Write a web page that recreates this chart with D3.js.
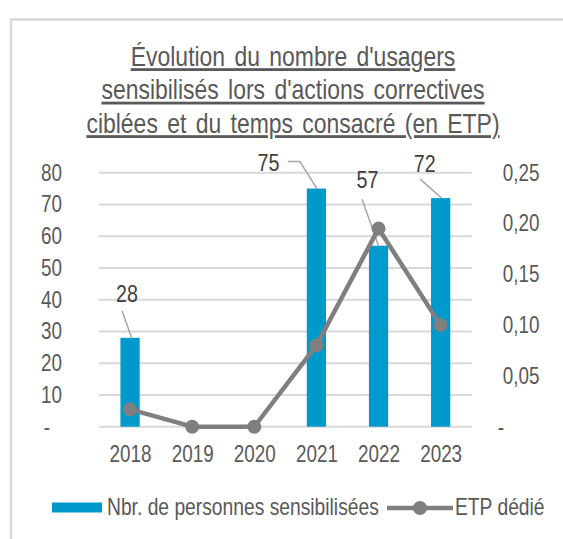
<!DOCTYPE html>
<html lang="fr">
<head>
<meta charset="utf-8">
<script src="https://cdn.jsdelivr.net/npm/d3@7"></script>
<style>
  html, body { margin: 0; padding: 0; background: #ffffff; }
  svg { display: block; }
  text { font-family: "Liberation Sans", Arial, sans-serif; }
</style>
</head>
<body>
<svg id="chart" width="563" height="539"></svg>
<script>
// Années affichées sur l'axe horizontal
const years = ["2018", "2019", "2020", "2021", "2022", "2023"];
// Nombre de personnes sensibilisées (barres, axe de gauche); null = pas de barre
const personnes = [28, null, null, 75, 57, 72];
// Temps consacré en ETP (ligne, axe de droite)
const etp = [0.017, 0, 0, 0.08, 0.195, 0.10];
// Graduations des deux axes
const leftTicks = [0, 10, 20, 30, 40, 50, 60, 70, 80];
const rightTicks = [0, 0.05, 0.10, 0.15, 0.20, 0.25];
// Titre (trois lignes) et légende
const titleLines = [
  "Évolution du nombre d'usagers",
  "sensibilisés lors d'actions correctives",
  "ciblées et du temps consacré (en ETP)"
];
const legendLabels = ["Nbr. de personnes sensibilisées", "ETP dédié"];

const BAR = "#0099cc", LINE = "#7f7f7f", GRID = "#d9d9d9", TXT = "#595959", LBL = "#404040";
// Compression horizontale du texte (rendu « narrow »)
const S = 0.82;

// Applique la compression horizontale à des textes déjà positionnés
function narrow(sel) {
  sel.each(function () {
    const t = d3.select(this);
    const xv = parseFloat(t.attr("x")) || 0;
    const dxv = parseFloat(t.attr("dx")) || 0;
    t.attr("x", xv / S).attr("dx", dxv / S).attr("transform", `scale(${S},1)`);
  });
  return sel;
}

const svg = d3.select("#chart");

// Cadre de la zone du graphique
svg.append("rect")
  .attr("x", 11).attr("y", 19.5).attr("width", 700).attr("height", 700)
  .attr("fill", "#ffffff").attr("stroke", "#d9d9d9").attr("stroke-width", 2.5);

// Titre souligné
const title = svg.append("g");
titleLines.forEach((t, i) => {
  title.append("text")
    .attr("x", 293).attr("y", 66 + i * 33.5)
    .attr("text-anchor", "middle")
    .attr("fill", TXT)
    .style("font-size", "28px")
    .style("text-decoration", "underline")
    .style("word-spacing", "3.6px")
    .text(t);
});
narrow(title.selectAll("text"));

// Échelles
const plotLeft = 99, plotRight = 471.7, plotTop = 172.7, plotBottom = 426.7;
const x = d3.scalePoint().domain(years).range([plotLeft, plotRight]).padding(0.5);
const step = x.step();
const barW = step * 0.31;
const yL = d3.scaleLinear().domain([0, 80]).range([plotBottom, plotTop]);
const yR = d3.scaleLinear().domain([0, 0.25]).range([plotBottom, plotTop]);

// Quadrillage horizontal
svg.append("g").selectAll("line").data(leftTicks).join("line")
  .attr("x1", plotLeft).attr("x2", plotRight)
  .attr("y1", d => yL(d)).attr("y2", d => yL(d))
  .attr("stroke", GRID).attr("stroke-width", 2);

// Axe de gauche
const axL = svg.append("g")
  .attr("transform", `translate(${plotLeft},0)`)
  .call(d3.axisLeft(yL).tickValues(leftTicks).tickSize(0).tickPadding(37)
    .tickFormat(d => d === 0 ? "-" : d));
axL.select(".domain").remove();
narrow(axL.selectAll("text")
  .attr("fill", TXT).style("font-size", "23px")
  .attr("dx", d => d === 0 ? -12 : 0));

// Axe de droite
const fmtR = d => d === 0 ? "-" : d3.format(".2f")(d).replace(".", ",");
const axR = svg.append("g")
  .attr("transform", `translate(${plotRight},0)`)
  .call(d3.axisRight(yR).tickValues(rightTicks).tickSize(0).tickPadding(31).tickFormat(fmtR));
axR.select(".domain").remove();
narrow(axR.selectAll("text")
  .attr("fill", TXT).style("font-size", "23px")
  .attr("dx", d => d === 0 ? -5 : 0));

// Axe horizontal (années)
const axX = svg.append("g")
  .attr("transform", `translate(0,${plotBottom})`)
  .call(d3.axisBottom(x).tickSize(0).tickPadding(19));
axX.select(".domain").remove();
narrow(axX.selectAll("text").attr("fill", TXT).style("font-size", "23px"));

// Barres
const barData = years.map((yr, i) => ({ yr, v: personnes[i] })).filter(d => d.v != null);
svg.append("g").selectAll("rect").data(barData).join("rect")
  .attr("x", d => x(d.yr) - barW / 2)
  .attr("y", d => yL(d.v))
  .attr("width", barW)
  .attr("height", d => yL(0) - yL(d.v))
  .attr("fill", BAR);

// Étiquettes des barres avec traits de rappel (décalages par rapport au sommet de la barre)
const labelOffsets = {
  "2018": { dx: -3, dy: -36, path: [[-8, -27], [1.5, 0]] },
  "2021": { dx: -48, dy: -17.5, path: [[-28.5, -27], [-16.5, -27], [0.5, 0]] },
  "2022": { dx: -11, dy: -57.5, path: [[-16.5, -46.5], [0, 0]] },
  "2023": { dx: -16, dy: -26.5, path: [[-20.5, -19], [1, 0]] }
};
const lbl = svg.append("g");
barData.forEach(d => {
  const o = labelOffsets[d.yr];
  const cx = x(d.yr), cy = yL(d.v);
  lbl.append("path")
    .attr("d", d3.line()(o.path.map(p => [cx + p[0], cy + p[1]])))
    .attr("fill", "none").attr("stroke", "#a6a6a6").attr("stroke-width", 1.5);
  narrow(lbl.append("text")
    .attr("x", cx + o.dx).attr("y", cy + o.dy)
    .attr("text-anchor", "middle").attr("fill", LBL)
    .style("font-size", "24px")
    .text(d.v));
});

// Ligne ETP
const lineData = years.map((yr, i) => ({ yr, v: etp[i] }));
svg.append("path")
  .datum(lineData)
  .attr("d", d3.line().x(d => x(d.yr)).y(d => yR(d.v)))
  .attr("fill", "none").attr("stroke", LINE).attr("stroke-width", 4.5)
  .attr("stroke-linejoin", "round");
svg.append("g").selectAll("circle").data(lineData).join("circle")
  .attr("cx", d => x(d.yr)).attr("cy", d => yR(d.v)).attr("r", 7)
  .attr("fill", LINE);

// Légende
const leg = svg.append("g");
leg.append("rect").attr("x", 52).attr("y", 502.5).attr("width", 50).attr("height", 10).attr("fill", BAR);
narrow(leg.append("text").attr("x", 107).attr("y", 515).attr("fill", TXT).style("font-size", "23.5px").text(legendLabels[0]));
leg.append("line").attr("x1", 387).attr("x2", 453).attr("y1", 508).attr("y2", 508)
  .attr("stroke", LINE).attr("stroke-width", 4.5);
leg.append("circle").attr("cx", 420).attr("cy", 508).attr("r", 7).attr("fill", LINE);
narrow(leg.append("text").attr("x", 455).attr("y", 515).attr("fill", TXT).style("font-size", "23.5px").text(legendLabels[1]));
</script>
</body>
</html>
